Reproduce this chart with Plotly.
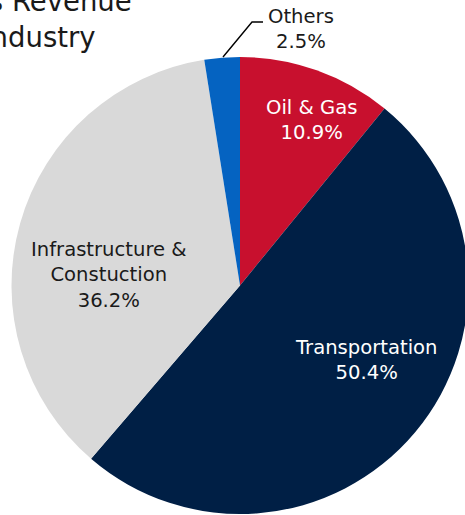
import plotly.graph_objects as go

# Data
categories = ["Oil & Gas", "Transportation", "Infrastructure &<br>Constuction", "Others"]
values = [10.9, 50.4, 36.2, 2.5]
colors = ["#C8102E", "#001F45", "#D9D9D9", "#0563C1"]
text_colors = ["#FFFFFF", "#FFFFFF", "#1A1A1A", "#1A1A1A"]
title_lines = ["Sales Revenue", "by Industry"]

W, H = 470, 515
FONT = "DejaVu Sans"

def px(x):
    return x / W

def py(y):
    return 1 - y / H

fig = go.Figure()
fig.add_trace(go.Pie(
    labels=categories,
    values=values,
    sort=False,
    direction="clockwise",
    rotation=0,
    marker=dict(colors=colors, line=dict(width=0)),
    textinfo="none",
    hoverinfo="label+percent",
    showlegend=False,
    domain=dict(x=[px(11.5), px(468.5)], y=[py(514), py(57)]),
))

# label positions (pixel coords of label centres)
label_pos = [(311, 120), (366, 360), (109, 275), (300.5, 29)]
for cat, v, tc, (lx, ly) in zip(categories, values, text_colors, label_pos):
    fig.add_annotation(
        x=px(lx), y=py(ly), xref="paper", yref="paper",
        text=f"{cat}<br>{v:.1f}%", showarrow=False,
        font=dict(family=FONT, size=19.6, color=tc),
        xanchor="center", yanchor="middle", align="center",
    )

# leader line for Others
fig.add_shape(
    type="path", xref="paper", yref="paper",
    path=f"M {px(223)} {py(57)} L {px(252)} {py(22)} L {px(263)} {py(22)}",
    line=dict(color="#000000", width=1.4),
)

# title (partially cut off at left/top)
fig.add_annotation(x=px(134), y=py(0.5), xref="paper", yref="paper",
                   text=title_lines[0], showarrow=False,
                   font=dict(family=FONT, size=27.5, color="#1A1A1A"),
                   xanchor="right", yanchor="middle")
fig.add_annotation(x=px(98), y=py(37), xref="paper", yref="paper",
                   text=title_lines[1], showarrow=False,
                   font=dict(family=FONT, size=27.5, color="#1A1A1A"),
                   xanchor="right", yanchor="middle")

fig.update_layout(
    width=W, height=H,
    margin=dict(l=0, r=0, t=0, b=0),
    paper_bgcolor="#FFFFFF",
    plot_bgcolor="#FFFFFF",
)

fig.write_html("out.html",
               post_script="document.body.style.margin='0';document.body.style.overflow='hidden';")
